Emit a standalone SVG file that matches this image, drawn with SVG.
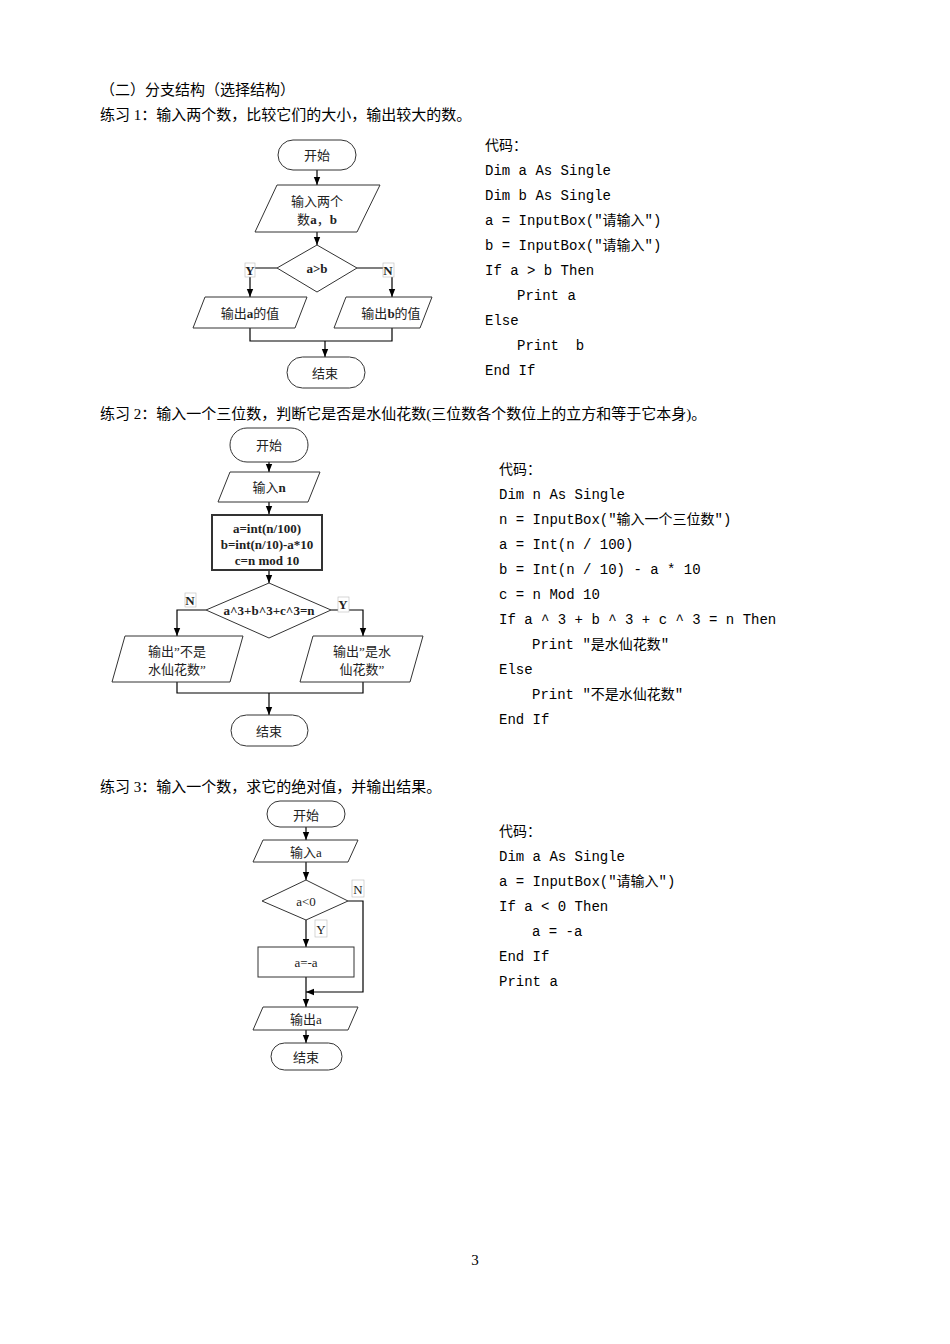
<svg xmlns="http://www.w3.org/2000/svg" width="950" height="1344" viewBox="0 0 950 1344">
<style>
.s{fill:#fff;stroke:#333;stroke-width:1}
.b{fill:#fff;stroke:#333;stroke-width:2}
.l{fill:none;stroke:#000;stroke-width:1.2}
.t{font-family:"Liberation Serif","Noto Sans CJK SC",serif;font-size:13px;fill:#222;text-anchor:middle}
.tb{font-weight:bold}
.h{font-family:"Liberation Serif","Noto Sans CJK SC",serif;font-size:15px;fill:#000}
.c{font-family:"Liberation Mono","Noto Sans CJK SC",monospace;font-size:14px;fill:#000}
.lb{fill:#fff;stroke:#bbb;stroke-width:0.6}
</style>
<defs><marker id="a" viewBox="0 0 10 10" refX="10" refY="5" markerWidth="7" markerHeight="7" orient="auto"><path d="M0,1 L10,5 L0,9 z" fill="#000"/></marker></defs>
<rect width="950" height="1344" fill="#fff"/>
<text class="h" x="100" y="95">（二）分支结构（选择结构）</text>
<text class="h" x="100" y="120">练习 1：输入两个数，比较它们的大小，输出较大的数。</text>
<text class="h" x="100" y="419">练习 2：输入一个三位数，判断它是否是水仙花数(三位数各个数位上的立方和等于它本身)。</text>
<text class="h" x="100" y="792">练习 3：输入一个数，求它的绝对值，并输出结果。</text>
<g id="code1" class="c">
<text x="485" y="150">代码：</text>
<text x="485" y="175">Dim a As Single</text>
<text x="485" y="200">Dim b As Single</text>
<text x="485" y="225">a = InputBox("请输入")</text>
<text x="485" y="250">b = InputBox("请输入")</text>
<text x="485" y="275">If a &gt; b Then</text>
<text x="517" y="300">Print a</text>
<text x="485" y="325">Else</text>
<text x="517" y="350" xml:space="preserve">Print  b</text>
<text x="485" y="375">End If</text>
</g>
<g id="code2" class="c">
<text x="499" y="474">代码：</text>
<text x="499" y="499">Dim n As Single</text>
<text x="499" y="524">n = InputBox("输入一个三位数")</text>
<text x="499" y="549">a = Int(n / 100)</text>
<text x="499" y="574">b = Int(n / 10) - a * 10</text>
<text x="499" y="599">c = n Mod 10</text>
<text x="499" y="624">If a ^ 3 + b ^ 3 + c ^ 3 = n Then</text>
<text x="532" y="649">Print "是水仙花数"</text>
<text x="499" y="674">Else</text>
<text x="532" y="699">Print "不是水仙花数"</text>
<text x="499" y="724">End If</text>
</g>
<g id="code3" class="c">
<text x="499" y="836">代码：</text>
<text x="499" y="861">Dim a As Single</text>
<text x="499" y="886">a = InputBox("请输入")</text>
<text x="499" y="911">If a &lt; 0 Then</text>
<text x="532" y="936">a = -a</text>
<text x="499" y="961">End If</text>
<text x="499" y="986">Print a</text>
</g>
<text class="h" x="475" y="1265" text-anchor="middle" font-size="13">3</text>

<g id="connectors">
<path class="l" d="M317,170 V185" marker-end="url(#a)"/>
<path class="l" d="M317,232 V245" marker-end="url(#a)"/>
<path class="l" d="M277,268 H250 V297" marker-end="url(#a)"/>
<path class="l" d="M357,268 H392 V297" marker-end="url(#a)"/>
<path class="l" d="M250,328 V341 H392 V328"/>
<path class="l" d="M325,341 V357" marker-end="url(#a)"/>

<path class="l" d="M269,462 V472" marker-end="url(#a)"/>
<path class="l" d="M269,502 V514" marker-end="url(#a)"/>
<path class="l" d="M269,570 V583" marker-end="url(#a)"/>
<path class="l" d="M206,610 H177 V636" marker-end="url(#a)"/>
<path class="l" d="M331,610 H363 V636" marker-end="url(#a)"/>
<path class="l" d="M177,682 V693 H363 V682"/>
<path class="l" d="M269,693 V715" marker-end="url(#a)"/>

<path class="l" d="M306,827 V840" marker-end="url(#a)"/>
<path class="l" d="M306,862 V880" marker-end="url(#a)"/>
<path class="l" d="M306,920 V947" marker-end="url(#a)"/>
<path class="l" d="M306,977 V1007" marker-end="url(#a)"/>
<path class="l" d="M348,901 H363 V992 H306" marker-end="url(#a)"/>
<path class="l" d="M306,1030 V1043" marker-end="url(#a)"/>
</g>

<g id="f1-start"><rect class="s" x="278" y="140" width="78" height="30" rx="15"/><text class="t" x="317" y="160">开始</text></g>
<g id="f1-input"><polygon class="s" points="277,185 380,185 357,232 255,232"/><text class="t" x="317" y="206">输入两个</text><text class="t" x="317" y="224">数<tspan class="tb">a</tspan>，<tspan class="tb">b</tspan></text></g>
<g id="f1-dec"><polygon class="s" points="317,245 357,268 317,292 277,268"/><text class="t tb" x="317" y="273">a&gt;b</text></g>
<g id="f1-y"><rect class="lb" x="245" y="263" width="10" height="14"/><text class="t tb" x="250" y="275">Y</text></g>
<g id="f1-n"><rect class="lb" x="383" y="263" width="11" height="14"/><text class="t tb" x="388" y="275">N</text></g>
<g id="f1-outa"><polygon class="s" points="205,297 307,297 295,328 193,328"/><text class="t" x="250" y="318">输出<tspan class="tb">a</tspan>的值</text></g>
<g id="f1-outb"><polygon class="s" points="346,297 432,297 420,328 334,328"/><text class="t" x="391" y="318">输出<tspan class="tb">b</tspan>的值</text></g>
<g id="f1-end"><rect class="s" x="287" y="357" width="78" height="31" rx="15.5"/><text class="t" x="325" y="378">结束</text></g>

<g id="f2-start"><rect class="s" x="230" y="428" width="78" height="34" rx="17"/><text class="t" x="269" y="450">开始</text></g>
<g id="f2-input"><polygon class="s" points="230,472 320,472 308,502 218,502"/><text class="t" x="269" y="492">输入<tspan class="tb">n</tspan></text></g>
<g id="f2-proc"><rect class="b" x="212" y="515" width="110" height="55"/><text class="t tb" x="267" y="533">a=int(n/100)</text><text class="t tb" x="267" y="549">b=int(n/10)-a*10</text><text class="t tb" x="267" y="565">c=n mod 10</text></g>
<g id="f2-dec"><polygon class="s" points="269,583 331,610 269,638 206,610"/><text class="t tb" x="269" y="615">a^3+b^3+c^3=n</text></g>
<g id="f2-n"><rect class="lb" x="185" y="593" width="11" height="14"/><text class="t tb" x="190" y="605">N</text></g>
<g id="f2-y"><rect class="lb" x="338" y="597" width="11" height="15"/><text class="t tb" x="343" y="609">Y</text></g>
<g id="f2-no"><polygon class="s" points="125,636 243,636 230,682 112,682"/><text class="t" x="177" y="656">输出”不是</text><text class="t" x="177" y="674">水仙花数”</text></g>
<g id="f2-yes"><polygon class="s" points="313,636 423,636 410,682 300,682"/><text class="t" x="362" y="656">输出”是水</text><text class="t" x="362" y="674">仙花数”</text></g>
<g id="f2-end"><rect class="s" x="231" y="715" width="77" height="31" rx="15.5"/><text class="t" x="269" y="736">结束</text></g>

<g id="f3-start"><rect class="s" x="267" y="801" width="78" height="26" rx="13"/><text class="t" x="306" y="820" font-size="15">开始</text></g>
<g id="f3-input"><polygon class="s" points="263,840 358,840 348,862 253,862"/><text class="t" x="306" y="857" font-size="15">输入a</text></g>
<g id="f3-dec"><polygon class="s" points="306,880 348,901 306,920 262,901"/><text class="t" x="306" y="906" font-size="14">a&lt;0</text></g>
<g id="f3-y"><rect class="lb" x="315" y="920" width="12" height="17"/><text class="t" x="321" y="934" font-size="14">Y</text></g>
<g id="f3-n"><rect class="lb" x="352" y="880" width="12" height="17"/><text class="t" x="358" y="894" font-size="14">N</text></g>
<g id="f3-proc"><rect class="s" x="258" y="947" width="96" height="30"/><text class="t" x="306" y="967" font-size="14">a=-a</text></g>
<g id="f3-out"><polygon class="s" points="263,1007 358,1007 348,1030 253,1030"/><text class="t" x="306" y="1024" font-size="15">输出a</text></g>
<g id="f3-end"><rect class="s" x="271" y="1043" width="71" height="27" rx="13.5"/><text class="t" x="306" y="1062" font-size="15">结束</text></g>
</svg>
